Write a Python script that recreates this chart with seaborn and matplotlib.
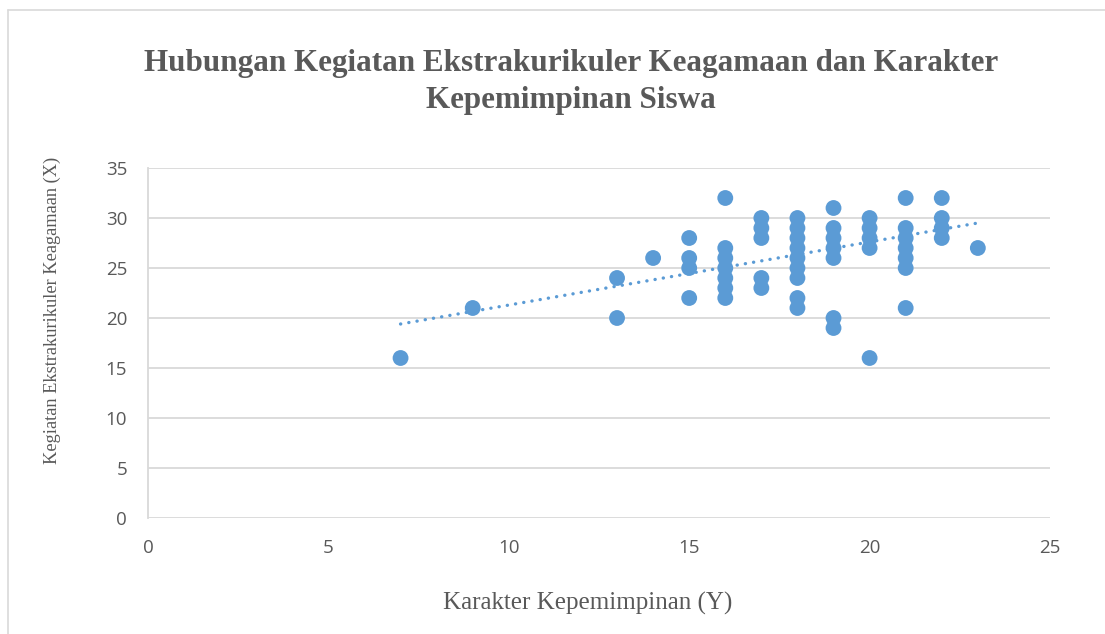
import numpy as np
import pandas as pd
import matplotlib
matplotlib.use("Agg")
import matplotlib.pyplot as plt
from matplotlib.lines import Line2D
import seaborn as sns

# Data: (Karakter Kepemimpinan Y, Kegiatan Ekstrakurikuler X)
x_vals = [7, 9, 13, 13, 14,
          15, 15, 15, 15,
          16, 16, 16, 16, 16, 16, 16,
          17, 17, 17, 17, 17,
          18, 18, 18, 18, 18, 18, 18, 18, 18,
          19, 19, 19, 19, 19, 19, 19,
          20, 20, 20, 20, 20,
          21, 21, 21, 21, 21, 21, 21,
          22, 22, 22, 22,
          23]
y_vals = [16, 21, 24, 20, 26,
          28, 26, 25, 22,
          32, 27, 26, 25, 24, 23, 22,
          30, 29, 28, 24, 23,
          30, 29, 28, 27, 26, 25, 24, 22, 21,
          31, 29, 28, 27, 26, 20, 19,
          30, 29, 28, 27, 16,
          32, 29, 28, 27, 26, 25, 21,
          32, 30, 29, 28,
          27]

# Linear trendline endpoints
trend_x = [7, 23]
trend_y = [19.4, 29.5]

title = "Hubungan Kegiatan Ekstrakurikuler Keagamaan dan Karakter\nKepemimpinan Siswa"
xlabel = "Karakter Kepemimpinan (Y)"
ylabel = "Kegiatan Ekstrakurikuler Keagamaan (X)"
x_ticks = [0, 5, 10, 15, 20, 25]
y_ticks = [0, 5, 10, 15, 20, 25, 30, 35]

df = pd.DataFrame({"x": x_vals, "y": y_vals})
trend_df = pd.DataFrame({"x": trend_x, "y": trend_y})

sns.set_style("white")
plt.rcParams['font.family'] = ['Open Sans', 'DejaVu Sans']

W, H = 1105, 634
fig = plt.figure(figsize=(W / 100, H / 100), dpi=100)
ax = fig.add_axes([148 / W, 1 - 518 / H, (1050 - 148) / W, (518 - 168) / H])

blue = "#5B9BD5"
grey = "#595959"

for yt in y_ticks:
    ax.axhline(yt, color="#D9D9D9", lw=1.3, zorder=0)

sns.lineplot(data=trend_df, x="x", y="y", ax=ax, color=blue, lw=2.4,
             linestyle=(0, (0.05, 2.45)), dash_capstyle="round", zorder=2)

sns.scatterplot(data=df, x="x", y="y", ax=ax, color=blue, s=130, edgecolor="none",
                zorder=3, legend=False)

ax.set_xlim(0, 25)
ax.set_ylim(0, 35)
ax.set_xticks(x_ticks)
ax.set_yticks(y_ticks)
ax.tick_params(axis="both", labelsize=13.5, colors=grey, length=0)
ax.tick_params(axis="y", pad=15)
ax.tick_params(axis="x", pad=15)
for s in ax.spines.values():
    s.set_visible(False)
ax.spines["left"].set_visible(True)
ax.spines["left"].set_color("#D9D9D9")
ax.spines["left"].set_linewidth(1.3)
ax.set_xlabel("")
ax.set_ylabel("")

fig.text(588 / W, 1 - 603 / H, xlabel, ha="center", va="center", family="Liberation Serif",
         fontsize=18, color=grey)
fig.text(52 / W, 1 - 310 / H, ylabel, ha="center", va="center", rotation=90,
         family="Liberation Serif", fontsize=13.2, color=grey)

fig.text(571 / W, 1 - 82 / H, title, ha="center", va="center", family="Liberation Serif",
         fontweight="bold", fontsize=22.4, color=grey, linespacing=1.35)

# chart border (left and top edges visible)
fig.add_artist(Line2D([8 / W, 8 / W], [0, 1 - 10 / H], transform=fig.transFigure,
                      color="#D9D9D9", lw=1.2))
fig.add_artist(Line2D([8 / W, 1], [1 - 10 / H, 1 - 10 / H], transform=fig.transFigure,
                      color="#D9D9D9", lw=1.2))

fig.savefig("out.png", dpi=100)
